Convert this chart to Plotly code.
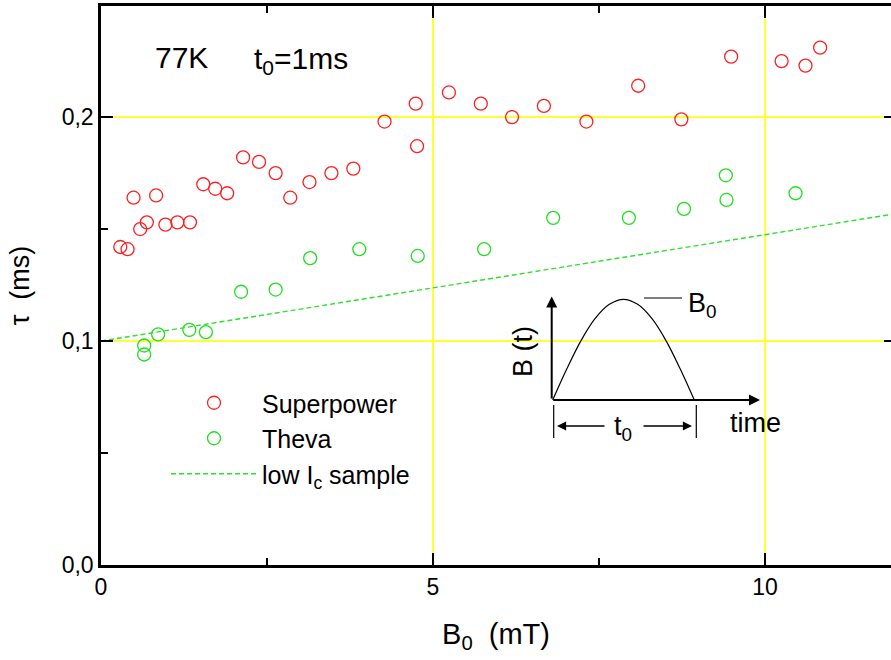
import plotly.graph_objects as go

# ---- data ----
sp_x = [0.29, 0.40, 0.49, 0.59, 0.69, 0.83, 0.97, 1.15, 1.34, 1.54, 1.72, 1.90,
        2.14, 2.38, 2.63, 2.85, 3.14, 3.47, 3.80, 4.27, 4.74, 4.76, 5.24, 5.72,
        6.19, 6.67, 7.31, 8.09, 8.74, 9.49, 10.25, 10.61, 10.83]
sp_y = [0.142, 0.141, 0.164, 0.150, 0.153, 0.165, 0.152, 0.153, 0.153, 0.170, 0.168, 0.166,
        0.182, 0.180, 0.175, 0.164, 0.171, 0.175, 0.177, 0.198, 0.206, 0.187, 0.211, 0.206,
        0.200, 0.205, 0.198, 0.214, 0.199, 0.227, 0.225, 0.223, 0.231]

th_x = [0.65, 0.65, 0.86, 1.33, 1.58, 2.11, 2.63, 3.15, 3.89, 4.77, 5.77,
        6.81, 7.95, 8.78, 9.41, 9.42, 10.46]
th_y = [0.094, 0.098, 0.103, 0.105, 0.104, 0.122, 0.123, 0.137, 0.141, 0.138, 0.141,
        0.155, 0.155, 0.159, 0.174, 0.163, 0.166]

low_ic_x = [0, 12]
low_ic_y = [0.100, 0.157]

# inset schematic pulse B(t), normalised
inset_t = [0, 0.1, 0.2, 0.3, 0.4, 0.5, 0.6, 0.7, 0.8, 0.9, 1.0]
inset_b = [0, 0.31, 0.59, 0.81, 0.95, 1.0, 0.95, 0.81, 0.59, 0.31, 0]

x_ticks = [0, 5, 10]
y_ticks = [0.0, 0.1, 0.2]

FONT = "Arial, Liberation Sans, sans-serif"

fig = go.Figure()
fig.add_trace(go.Scatter(x=sp_x, y=sp_y, mode="markers", name="Superpower",
                         marker=dict(symbol="circle-open", size=13, color="#ff2020",
                                     line=dict(width=1.3, color="#ff2020"))))
fig.add_trace(go.Scatter(x=th_x, y=th_y, mode="markers", name="Theva",
                         marker=dict(symbol="circle-open", size=13, color="#20e020",
                                     line=dict(width=1.3, color="#20e020"))))
fig.add_trace(go.Scatter(x=low_ic_x, y=low_ic_y, mode="lines", name="low I<sub>c</sub> sample",
                         line=dict(color="#30e030", width=1.4, dash="5px,3px")))
# dummy trace for right-side mirror ticks
fig.add_trace(go.Scatter(x=[None], y=[None], yaxis="y3", showlegend=False, hoverinfo="skip"))
# inset curve
fig.add_trace(go.Scatter(x=inset_t, y=inset_b, xaxis="x2", yaxis="y2", mode="lines",
                         line=dict(color="black", width=1.2, shape="spline"),
                         showlegend=False, hoverinfo="skip", cliponaxis=False))

# pixel geometry of plot area
L, R, T, B = 101, 891, 6, 565
W, H = R - L, B - T

def px_x(p):
    return (p - L) / W

def px_y(p):
    return (B - p) / H

# inset axes: t=0 at px 552.7, t=1 at px 694.3 ; B=0 at py 400, B=1 at py 299.3
ix0, ix1 = 500, 800
iy0, iy1 = 445, 285
def t_of(p):
    return (p - 552.7) / 141.6
def b_of(p):
    return (400 - p) / 100.7

axis_common = dict(showline=True, linecolor="black", linewidth=2.5, ticks="inside",
                   tickcolor="black", tickwidth=2, ticklen=12, zeroline=False,
                   tickfont=dict(family=FONT, size=23, color="black"),
                   showgrid=True, gridcolor="#ffff33", gridwidth=1.5)

fig.update_layout(
    width=891, height=660,
    margin=dict(l=L, r=0, t=T, b=660 - B),
    paper_bgcolor="white", plot_bgcolor="rgba(0,0,0,0)",
    separators=",.",
    font=dict(family=FONT, color="black"),
    xaxis=dict(range=[0, W / 66.4], tickvals=x_ticks, mirror="ticks",
               minor=dict(dtick=2.5, ticks="inside", ticklen=7, tickcolor="black",
                          tickwidth=2, showgrid=False),
               title=dict(text="B<sub>0</sub>  (mT)", font=dict(family=FONT, size=29),
                          standoff=25),
               **axis_common),
    yaxis=dict(range=[0, 0.2496], tickvals=y_ticks, tickformat=".1f", mirror=False,
               minor=dict(dtick=0.05, ticks="inside", ticklen=7, tickcolor="black",
                          tickwidth=2, showgrid=False),
               title=dict(text="\u03c4  (ms)", font=dict(family=FONT, size=27),
                          standoff=25),
               **axis_common),
    yaxis3=dict(overlaying="y", side="right", anchor="x", range=[0, 0.2496],
                tickvals=y_ticks, showticklabels=False, showline=False, showgrid=False,
                zeroline=False, ticks="inside", ticklen=7, tickwidth=2, tickcolor="black"),
    xaxis2=dict(domain=[px_x(ix0), px_x(ix1)], range=[t_of(ix0), t_of(ix1)],
                anchor="y2", visible=False, fixedrange=True),
    yaxis2=dict(domain=[px_y(iy0), px_y(iy1)], range=[b_of(iy0), b_of(iy1)],
                anchor="x2", visible=False, fixedrange=True),
    legend=dict(x=px_x(166), y=px_y(380), xanchor="left", yanchor="top",
                bgcolor="rgba(0,0,0,0)", font=dict(family=FONT, size=25, color="black"),
                itemwidth=86, tracegroupgap=0),
    showlegend=True,
)

ann = []
# top-left labels
ann.append(dict(x=0.78, y=0.2266, xref="x", yref="y", text="77K", showarrow=False,
                xanchor="left", yanchor="middle", font=dict(family=FONT, size=30)))
ann.append(dict(x=2.27, y=0.2252, xref="x", yref="y", text="t<sub>0</sub>=1ms",
                showarrow=False, xanchor="left", yanchor="middle",
                font=dict(family=FONT, size=30)))

# inset arrows (axes)
arrow_common = dict(xref="x2", yref="y2", axref="x2", ayref="y2", text="",
                    showarrow=True, arrowhead=2, arrowcolor="black")
ann.append(dict(x=t_of(551.7), y=b_of(296.5), ax=t_of(551.7), ay=0,
                arrowwidth=2, arrowsize=1.1, **arrow_common))
ann.append(dict(x=t_of(760), y=0, ax=t_of(551.7), ay=0,
                arrowwidth=2, arrowsize=1.1, **arrow_common))
# t0 arrows
ann.append(dict(x=t_of(557), y=b_of(426), ax=t_of(606), ay=b_of(426),
                arrowwidth=1.3, arrowsize=1.4, **arrow_common))
ann.append(dict(x=t_of(692), y=b_of(426), ax=t_of(642), ay=b_of(426),
                arrowwidth=1.3, arrowsize=1.4, **arrow_common))
# inset texts
ann.append(dict(x=t_of(623), y=b_of(428), xref="x2", yref="y2", text="t<sub>0</sub>",
                showarrow=False, xanchor="center", yanchor="middle",
                font=dict(family=FONT, size=27)))
ann.append(dict(x=t_of(755), y=b_of(423), xref="x2", yref="y2", text="time",
                showarrow=False, xanchor="center", yanchor="middle",
                font=dict(family=FONT, size=27)))
ann.append(dict(x=t_of(523), y=b_of(352), xref="x2", yref="y2", text="B (t)",
                showarrow=False, xanchor="center", yanchor="middle", textangle=-90,
                font=dict(family=FONT, size=27)))
ann.append(dict(x=t_of(686), y=b_of(305), xref="x2", yref="y2", text="B<sub>0</sub>",
                showarrow=False, xanchor="left", yanchor="middle",
                font=dict(family=FONT, size=27)))
fig.update_layout(annotations=ann)

shapes = [
    dict(type="line", xref="x2", yref="y2", x0=t_of(644), x1=t_of(682),
         y0=b_of(298), y1=b_of(298), line=dict(color="black", width=1.2)),
    dict(type="line", xref="x2", yref="y2", x0=t_of(553.7), x1=t_of(553.7),
         y0=b_of(405), y1=b_of(438), line=dict(color="black", width=1.2)),
    dict(type="line", xref="x2", yref="y2", x0=t_of(696.3), x1=t_of(696.3),
         y0=b_of(405), y1=b_of(438), line=dict(color="black", width=1.2)),
]
fig.update_layout(shapes=shapes)

fig.write_html("out.html")
